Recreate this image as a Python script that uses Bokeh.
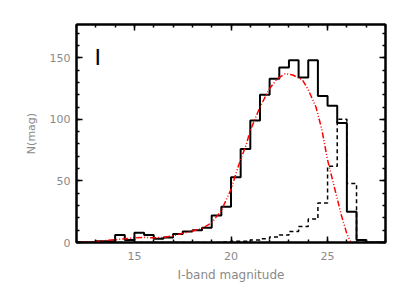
from bokeh.plotting import figure
from bokeh.models import LinearAxis, SingleIntervalTicker, Range1d, CustomJSTickFormatter
from bokeh.embed import file_html
from bokeh.resources import INLINE
from bokeh.core.properties import value

# histogram bins (left edges, 0.5 mag wide) and counts
bin_left = [12.0, 12.5, 13.0, 13.5, 14.0, 14.5, 15.0, 15.5, 16.0, 16.5, 17.0, 17.5,
            18.0, 18.5, 19.0, 19.5, 20.0, 20.5, 21.0, 21.5, 22.0, 22.5, 23.0, 23.5,
            24.0, 24.5, 25.0, 25.5, 26.0, 26.5, 27.0, 27.5]
bin_right_end = 28.0
n_total = [0, 0, 1, 1, 6, 2, 8, 6, 3, 4, 7, 9,
           10, 12, 22, 29, 53, 76, 99, 120, 133, 142, 148, 134,
           148, 119, 111, 97, 25, 2, 0, 0]
n_dashed = [0, 0, 0, 0, 0, 0, 0, 0, 0, 0, 0, 0,
            0, 0, 0, 0.5, 1, 1, 2, 3, 4.5, 6, 9, 13,
            19, 32, 62, 100, 48, 0, 0, 0]

# fitted curve
fit_mag = [12.2, 13.0, 14.0, 14.5, 15.0, 15.5, 16.0, 16.5, 17.0, 17.5, 18.0, 18.5,
           19.0, 19.5, 20.0, 20.4, 20.8, 21.0, 21.5, 22.0, 22.4, 22.8, 23.2, 23.7,
           24.0, 24.4, 24.7, 25.0, 25.35, 25.7, 26.0, 26.2]
fit_n = [0, 0.8, 2.3, 3.0, 3.8, 4.2, 3.8, 4.2, 5.5, 7.4, 9.3, 11.5,
         16, 26, 43, 63, 80, 91, 110, 125, 133, 137, 136, 132,
         124, 110, 92, 67, 45, 23, 7, 0.5]

x_label = "I-band magnitude"
y_label = "N(mag)"
panel_label = "I"

p = figure(frame_width=309, frame_height=218,
           min_border_left=76, min_border_top=24, min_border_right=10, min_border_bottom=44,
           x_range=Range1d(12, 28), y_range=Range1d(0, 177),
           output_backend="svg", toolbar_location=None,
           x_axis_label=x_label, y_axis_label=y_label)

p.xgrid.visible = False
p.ygrid.visible = False
p.background_fill_color = "white"
p.border_fill_color = "white"
p.outline_line_color = "black"
p.outline_line_width = 2

blank = CustomJSTickFormatter(code="return '';")
p.add_layout(LinearAxis(formatter=blank), "above")
p.add_layout(LinearAxis(formatter=blank), "right")

label_color = "#8a8a8a"
for ax in p.xaxis:
    ax.ticker = SingleIntervalTicker(interval=5, num_minor_ticks=5)
for ax in p.yaxis:
    ax.ticker = SingleIntervalTicker(interval=50, num_minor_ticks=5)
for ax in p.xaxis + p.yaxis:
    ax.axis_line_color = "black"
    ax.axis_line_width = 2
    ax.major_tick_in = 6
    ax.major_tick_out = 0
    ax.minor_tick_in = 3
    ax.minor_tick_out = 0
    ax.major_tick_line_width = 1.5
    ax.minor_tick_line_width = 1.5
    ax.major_tick_line_color = "black"
    ax.minor_tick_line_color = "black"
    ax.major_label_text_font = "DejaVu Sans"
    ax.major_label_text_font_size = "11px"
    ax.major_label_text_color = label_color
    ax.axis_label_text_font = "DejaVu Sans"
    ax.axis_label_text_font_size = "12px"
    ax.axis_label_text_font_style = "normal"
    ax.axis_label_text_color = label_color

p.xaxis[1].major_label_standoff = 9
p.xaxis[1].axis_label_standoff = 5
p.yaxis[0].major_label_standoff = 6
p.yaxis[0].axis_label_standoff = 9
p.yaxis[0].axis_label_text_font_size = "11px"
p.xaxis[0].major_label_standoff = 0
p.yaxis[1].major_label_standoff = 0

xs = bin_left + [bin_right_end]
p.step(xs, n_dashed + [n_dashed[-1]], mode="after", line_color="black",
       line_width=1.5, line_dash="4 3")
p.step(xs, n_total + [n_total[-1]], mode="after", line_color="black", line_width=2)
p.line(fit_mag, fit_n, line_color="red", line_width=1.5, line_dash="6 2 1 2 1 2")

p.text(x=[13.1], y=[150], text=[panel_label], text_font=value("DejaVu Sans"),
       text_font_size="22px", text_color="black", text_align="center",
       text_baseline="alphabetic")

open("out.html", "w").write(file_html(p, INLINE))
